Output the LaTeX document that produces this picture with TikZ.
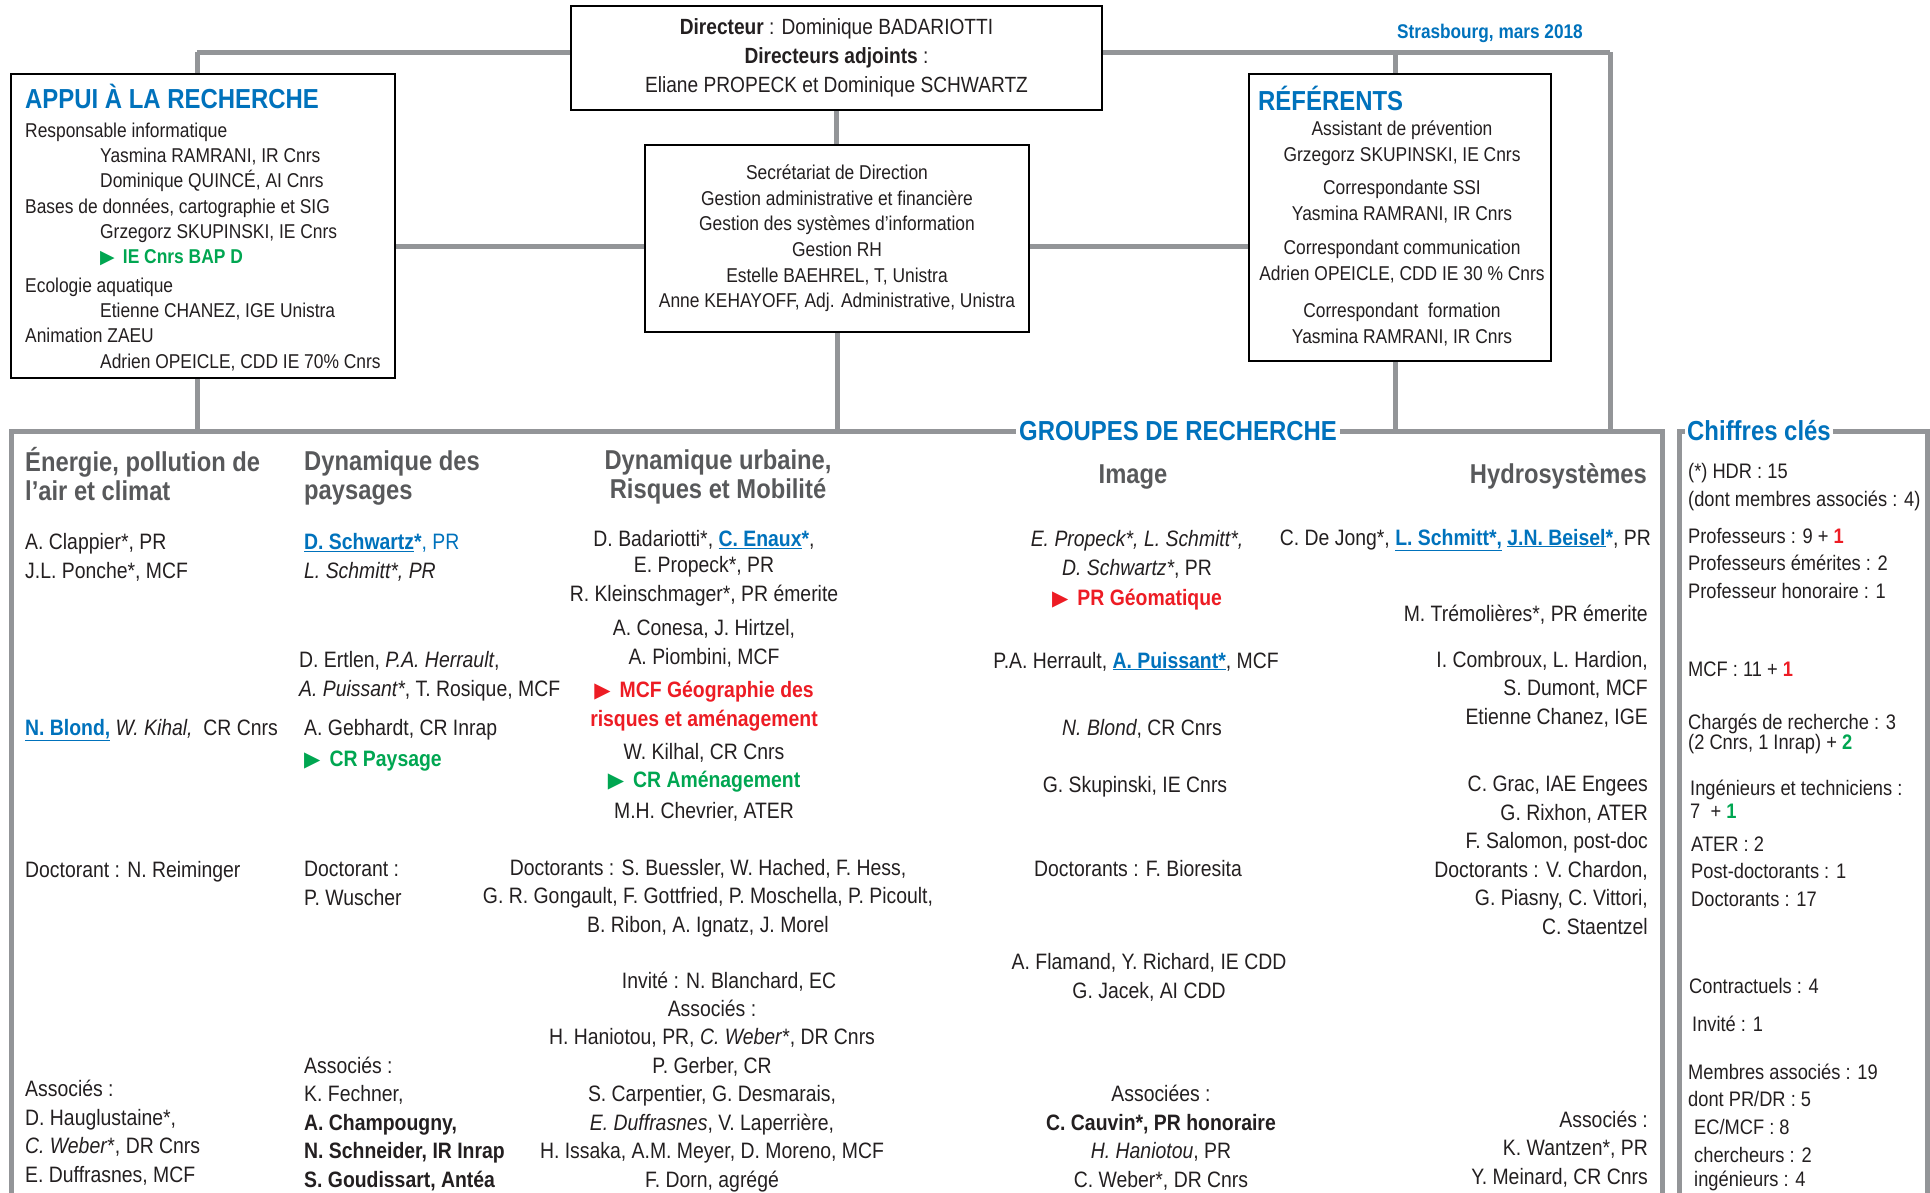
\documentclass[tikz,border=0pt]{standalone}
\usepackage{fontspec}
\setmainfont[FakeStretch=0.87]{Liberation Sans}
\newfontfamily\symfont{DejaVu Sans}
\usepackage{tikz}

\definecolor{uniblue}{RGB}{0,114,188}
\definecolor{unigreen}{RGB}{0,166,81}
\definecolor{unired}{RGB}{237,28,36}
\definecolor{linegray}{RGB}{147,149,152}
\definecolor{titlegray}{RGB}{88,89,91}
\definecolor{inkgray}{RGB}{35,31,32}

\newcommand{\lien}[1]{\textcolor{uniblue}{\bfseries\underline{#1}}}
\newcommand{\etoile}{\textcolor{uniblue}{\bfseries *}}
\newcommand{\fleche}{{\symfont\scalebox{0.95}{▶}}\ \,}
\newcommand{\poste}[2]{\textcolor{#1}{\bfseries\fleche #2}}

\begin{document}
\begin{tikzpicture}[x=1pt, y=-1pt,
    boxed/.style={rectangle, draw=black, line width=2.4pt, fill=white},
    link/.style={draw=linegray, line width=5pt},
    heading/.style={font=\fontsize{27.5}{30}\selectfont\bfseries, text=uniblue, inner sep=0pt},
    grouptitle/.style={font=\fontsize{27.3}{29}\selectfont\bfseries, text=titlegray, inner sep=0pt},
    member/.style={font=\fontsize{22.3}{28.5}\selectfont, text=inkgray, inner sep=0pt},
    boxtext/.style={font=\fontsize{20}{25.6}\selectfont, text=inkgray, inner sep=0pt},
    keyfig/.style={font=\fontsize{21}{27.5}\selectfont, text=inkgray, inner sep=0pt, anchor=base west, align=left}
]
\useasboundingbox (0,0) rectangle (1930,1192);

% Direction
\node[boxed, minimum width=531pt, minimum height=104pt, align=center, text=inkgray,
      font=\fontsize{22}{29}\selectfont] at (836.5,58) (dir)
  {\textbf{Directeur} : Dominique BADARIOTTI\\
   \textbf{Directeurs adjoints} :\\
   Eliane PROPECK et Dominique SCHWARTZ};
\node[font=\fontsize{19.8}{20}\selectfont\bfseries, text=uniblue, anchor=base east, inner sep=0pt]
  at (1583,38) (date) {Strasbourg, mars 2018};

% Secretariat
\node[boxed, boxtext, minimum width=384pt, minimum height=187pt, align=center] at (837,238.5) (secr)
  {Secrétariat de Direction\\
   Gestion administrative et financière\\
   Gestion des systèmes d'information\\
   Gestion RH\\
   Estelle BAEHREL, T, Unistra\\
   Anne KEHAYOFF, Adj. Administrative, Unistra};

% Appui a la recherche
\node[boxed, minimum width=384pt, minimum height=304pt] at (203,226) (appui) {};
\node[heading, anchor=base west] at (25,108) (appuititle) {APPUI À LA RECHERCHE};
\node[boxtext, font=\fontsize{20}{25.3}\selectfont, anchor=base west, align=left] at (25,368) (appuitext)
  {Responsable informatique\\
   \hspace*{75pt}Yasmina RAMRANI, IR Cnrs\\
   \hspace*{75pt}Dominique QUINCÉ, AI Cnrs\\
   Bases de données, cartographie et SIG\\
   \hspace*{75pt}Grzegorz SKUPINSKI, IE Cnrs\\
   \hspace*{75pt}\poste{unigreen}{IE Cnrs BAP D}\\[3pt]
   Ecologie aquatique\\
   \hspace*{75pt}Etienne CHANEZ, IGE Unistra\\
   Animation ZAEU\\
   \hspace*{75pt}Adrien OPEICLE, CDD IE 70\% Cnrs};

% Referents
\node[boxed, minimum width=302pt, minimum height=287pt] at (1400,217.5) (ref) {};
\node[heading, anchor=base west] at (1258,110) (reftitle) {RÉFÉRENTS};
\node[boxtext, font=\fontsize{20}{26}\selectfont, anchor=base, align=center] at (1402,343) (reftext)
  {Assistant de prévention\\
   Grzegorz SKUPINSKI, IE Cnrs\\[7pt]
   Correspondante SSI\\
   Yasmina RAMRANI, IR Cnrs\\[8pt]
   Correspondant communication\\
   Adrien OPEICLE, CDD IE 30 \% Cnrs\\[11pt]
   Correspondant\ \ formation\\
   Yasmina RAMRANI, IR Cnrs};

% Frames
\coordinate (tl) at (197,52);
\coordinate (tr) at (1610,52);
\coordinate (rt) at (1395,52);
\coordinate (hl) at (0,246);
\coordinate (gtop) at (0,431);
\draw[link] (11,1200) -- (11,431) -- (1662,431) -- (1662,1200);
\draw[link] (1679,1200) -- (1679,431) -- (1927,431) -- (1927,1200);
\node[heading, fill=white, inner xsep=3pt] at (1178,431) (groupes) {GROUPES DE RECHERCHE};
\node[heading, fill=white, inner xsep=2pt, anchor=west] at (1685,431) (chiffres) {Chiffres clés};

% Connectors
\draw[link] (tl) -- (tl -| dir.west);
\draw[link] (tl -| dir.east) -- (tr);
\draw[link] (tl) -- (tl |- appui.north);
\draw[link] (tl |- appui.south) -- (tl |- gtop);
\draw[link] (dir.south) -- (dir.south |- secr.north);
\draw[link] (secr.south) -- (secr.south |- gtop);
\draw[link] (appui.east |- hl) -- (secr.west |- hl);
\draw[link] (secr.east |- hl) -- (ref.west |- hl);
\draw[link] (rt) -- (rt |- ref.north);
\draw[link] (rt |- ref.south) -- (rt |- gtop);
\draw[link] (tr) -- (tr |- gtop);

% Group titles
\node[grouptitle, anchor=base west, align=left] at (25,500) (tenergie) {Énergie, pollution de\\l’air et climat};
\node[grouptitle, anchor=base west, align=left] at (304,499) (tpaysages) {Dynamique des\\paysages};
\node[grouptitle, anchor=base, align=center] at (718,498) (turbaine) {Dynamique urbaine,\\Risques et Mobilité};
\node[grouptitle, anchor=base] at (1133,483) (timage) {Image};
\node[grouptitle, anchor=base east] at (1647,483) (thydro) {Hydrosystèmes};

% Energie, pollution de l'air et climat
\node[member, anchor=base west, align=left] at (25,578) (en1) {A. Clappier*, PR\\J.L. Ponche*, MCF};
\node[member, anchor=base west] at (25,735) (en2) {\lien{N. Blond,} \textit{W. Kihal,}\ \ CR Cnrs};
\node[member, anchor=base west] at (25,877) (en3) {Doctorant : N. Reiminger};
\node[member, anchor=base west, align=left] at (25,1182) (en4)
  {Associés :\\D. Hauglustaine*,\\\textit{C. Weber}*, DR Cnrs\\E. Duffrasnes, MCF};

% Dynamique des paysages
\node[member, anchor=base west, align=left] at (304,578) (pa1)
  {\lien{D. Schwartz}\textcolor{uniblue}{\textbf{*}, PR}\\\textit{L. Schmitt*, PR}};
\node[member, anchor=base west, align=left] at (299,696) (pa2)
  {D. Ertlen, \textit{P.A. Herrault},\\\textit{A. Puissant*}, T. Rosique, MCF};
\node[member, anchor=base west, align=left] at (304,766) (pa3)
  {A. Gebhardt, CR Inrap\\[2.5pt]\poste{unigreen}{CR Paysage}};
\node[member, anchor=base west, align=left] at (304,905) (pa4) {Doctorant :\\P. Wuscher};
\node[member, anchor=base west, align=left] at (304,1187) (pa5)
  {Associés :\\K. Fechner,\\\textbf{A. Champougny,}\\\textbf{N. Schneider, IR Inrap}\\\textbf{S. Goudissart, Antéa}};

% Dynamique urbaine, Risques et Mobilite
\node[member, anchor=base, align=center] at (704,601) (ur1)
  {D. Badariotti*, \lien{C. Enaux}\etoile,\\[-2.5pt]E. Propeck*, PR\\R. Kleinschmager*, PR émerite};
\node[member, anchor=base, align=center] at (704,664) (ur2) {A. Conesa, J. Hirtzel,\\A. Piombini, MCF};
\node[member, anchor=base, align=center, text=unired, font=\fontsize{22.3}{28.5}\selectfont\bfseries]
  at (704,726) (ur3) {\fleche MCF Géographie des\\risques et aménagement};
\node[member, anchor=base, align=center] at (704,818) (ur4)
  {W. Kilhal, CR Cnrs\\\poste{unigreen}{CR Aménagement}\\[2pt]M.H. Chevrier, ATER};
\node[member, anchor=base, align=center] at (708,932) (ur5)
  {Doctorants : S. Buessler, W. Hached, F. Hess,\\G. R. Gongault, F. Gottfried, P. Moschella, P. Picoult,\\B. Ribon, A. Ignatz, J. Morel};
\node[member, anchor=base] at (729,988) (ur6) {Invité : N. Blanchard, EC};
\node[member, anchor=base, align=center] at (712,1187) (ur7)
  {Associés :\\H. Haniotou, PR, \textit{C. Weber}*, DR Cnrs\\P. Gerber, CR\\S. Carpentier, G. Desmarais,\\
   \textit{E. Duffrasnes}, V. Laperrière,\\H. Issaka, A.M. Meyer, D. Moreno, MCF\\F. Dorn, agrégé};

% Image
\node[member, anchor=base, align=center] at (1137,605) (im1)
  {\textit{E. Propeck*, L. Schmitt*,}\\\textit{D. Schwartz*}, PR\\[1.5pt]\poste{unired}{PR Géomatique}};
\node[member, anchor=base] at (1136,668) (im2) {P.A. Herrault, \lien{A. Puissant*}, MCF};
\node[member, anchor=base] at (1142,735) (im3) {\textit{N. Blond}, CR Cnrs};
\node[member, anchor=base] at (1135,792) (im4) {G. Skupinski, IE Cnrs};
\node[member, anchor=base] at (1138,876) (im5) {Doctorants : F. Bioresita};
\node[member, anchor=base, align=center] at (1149,998) (im6) {A. Flamand, Y. Richard, IE CDD\\G. Jacek, AI CDD};
\node[member, anchor=base, align=center] at (1161,1187) (im7)
  {Associées :\\\textbf{C. Cauvin*, PR honoraire}\\\textit{H. Haniotou}, PR\\C. Weber*, DR Cnrs};

% Hydrosystemes
\node[member, anchor=base east] at (1651,545) (hy1)
  {C. De Jong*, \lien{L. Schmitt*,} \lien{J.N. Beisel}\etoile, PR};
\node[member, anchor=base east] at (1648,621) (hy2) {M. Trémolières*, PR émerite};
\node[member, anchor=base east, align=right] at (1648,724) (hy3)
  {I. Combroux, L. Hardion,\\S. Dumont, MCF\\Etienne Chanez, IGE};
\node[member, anchor=base east, align=right] at (1648,934) (hy4)
  {C. Grac, IAE Engees\\G. Rixhon, ATER\\F. Salomon, post-doc\\Doctorants : V. Chardon,\\G. Piasny, C. Vittori,\\C. Staentzel};
\node[member, anchor=base east, align=right] at (1648,1184) (hy5)
  {Associés :\\K. Wantzen*, PR\\Y. Meinard, CR Cnrs};

% Chiffres cles
\node[keyfig, font=\fontsize{21}{28}\selectfont] at (1688,506) (cf1) {(*) HDR : 15\\(dont membres associés : 4)};
\node[keyfig] at (1688,598) (cf2)
  {Professeurs : 9 + \textcolor{unired}{\bfseries 1}\\Professeurs émérites : 2\\Professeur honoraire : 1};
\node[keyfig] at (1688,676) (cf3) {MCF : 11 + \textcolor{unired}{\bfseries 1}};
\node[keyfig] at (1688,749) (cf4) {Chargés de recherche : 3\\[-7.5pt](2 Cnrs, 1 Inrap) + \textcolor{unigreen}{\bfseries 2}};
\node[keyfig] at (1690,818) (cf5) {Ingénieurs et techniciens :\\[-4.5pt]7\ \ + \textcolor{unigreen}{\bfseries 1}};
\node[keyfig] at (1691,906) (cf6) {ATER : 2\\Post-doctorants : 1\\Doctorants : 17};
\node[keyfig] at (1689,993) (cf7) {Contractuels : 4};
\node[keyfig] at (1692,1031) (cf8) {Invité : 1};
\node[keyfig] at (1688,1186) (cf9)
  {Membres associés : 19\\dont PR/DR : 5\\\hspace*{6pt}EC/MCF : 8\\[1pt]\hspace*{6pt}chercheurs : 2\\[-4pt]\hspace*{6pt}ingénieurs : 4};

\end{tikzpicture}
\end{document}
